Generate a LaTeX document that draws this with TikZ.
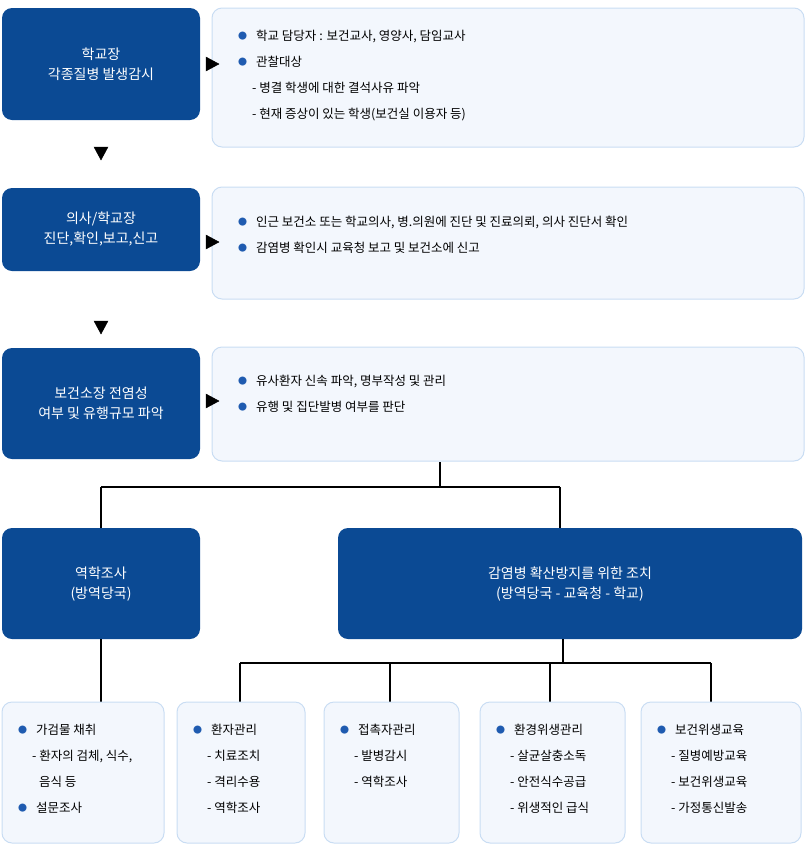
\documentclass[tikz,border=0pt]{standalone}
\usepackage{fontspec}
\setmainfont{Noto Sans CJK KR}
\begin{document}
\begin{tikzpicture}[x=1pt,y=-1pt,
 dark/.style={fill=dkb,rounded corners=10pt,draw=none},
 lite/.style={fill=ltb,draw=bdb,line width=1pt,rounded corners=10pt},
 ln/.style={line width=1.2pt,black},
 tri/.style={fill=black,inner sep=0pt},
 dtxt/.style={text=white,font=\fontsize{14}{20}\selectfont,align=center},
 btxt/.style={anchor=north west,font=\fontsize{12.5}{26}\selectfont,align=left,inner sep=0pt}]
\definecolor{dkb}{HTML}{0B4A94}
\definecolor{ltb}{HTML}{F3F7FD}
\definecolor{bdb}{HTML}{C9DDF3}
\definecolor{bul}{HTML}{1F5BB0}
\newcommand{\bl}{{\color{bul}\raisebox{1.5pt}{\fontsize{9}{9}\selectfont●}}\hspace{9pt}}
\newcommand{\ind}{\hspace{14pt}}
\useasboundingbox (0,0) rectangle (810,852);
% row 1
\draw[dark] (2,8) rectangle (200,120); \node[dtxt] (d1) at (101,64) {학교장\\각종질병 발생감시};
\draw[lite] (212,8) rectangle (804,147); \node[btxt] (t1) at (238,30) {\bl 학교 담당자 : 보건교사, 영양사, 담임교사\\\bl 관찰대상\\\ind - 병결 학생에 대한 결석사유 파악\\\ind - 현재 증상이 있는 학생(보건실 이용자 등)};
\draw[tri] (206,57) -- (219,64) -- (206,71) -- cycle;
\draw[tri] (94,147) -- (108,147) -- (101,160) -- cycle;
% row 2
\draw[dark] (2,188) rectangle (200,271); \node[dtxt] (d2) at (101,229) {의사/학교장\\진단,확인,보고,신고};
\draw[lite] (212,187) rectangle (804,299); \node[btxt] (t2) at (238,216) {\bl 인근 보건소 또는 학교의사, 병.의원에 진단 및 진료의뢰, 의사 진단서 확인\\\bl 감염병 확인시 교육청 보고 및 보건소에 신고};
\draw[tri] (206,235) -- (219,242) -- (206,249) -- cycle;
\draw[tri] (94,321) -- (108,321) -- (101,334) -- cycle;
% row 3
\draw[dark] (2,348) rectangle (200,459); \node[dtxt] (d3) at (101,403) {보건소장 전염성\\여부 및 유행규모 파악};
\draw[lite] (212,347) rectangle (804,461); \node[btxt] (t3) at (238,375) {\bl 유사환자 신속 파악, 명부작성 및 관리\\\bl 유행 및 집단발병 여부를 판단};
\draw[tri] (206,394) -- (219,401) -- (206,408) -- cycle;
% branch
\coordinate (a) at (440,462); \coordinate (b) at (440,487);
\coordinate (c) at (101,487); \coordinate (e) at (560,487);
\draw[ln] (a) -- (b) (c) -- (e) (c) -- (101,528) (e) -- (560,528);
% row 4
\draw[dark] (2,528) rectangle (200,639); \node[dtxt] (d4) at (101,584) {역학조사\\(방역당국)};
\draw[dark] (338,528) rectangle (802,639); \node[dtxt] (d5) at (570,584) {감염병 확산방지를 위한 조치\\(방역당국 - 교육청 - 학교)};
\draw[ln] (101,639) -- (101,702);
\draw[ln] (563,639) -- (563,663) (240,663) -- (711,663);
\foreach \x in {240,390,550,711} \draw[ln] (\x,663) -- (\x,702);
% bottom
\draw[lite] (2,702) rectangle (164,843); \node[btxt] (b1) at (18,724) {\bl 가검물 채취\\\ind - 환자의 검체, 식수,\\\ind\hspace{7pt}음식 등\\\bl 설문조사};
\draw[lite] (177,702) rectangle (305,843); \node[btxt] (b2) at (193,724) {\bl 환자관리\\\ind - 치료조치\\\ind - 격리수용\\\ind - 역학조사};
\draw[lite] (324,702) rectangle (459,843); \node[btxt] (b3) at (340,724) {\bl 접촉자관리\\\ind - 발병감시\\\ind - 역학조사};
\draw[lite] (480,702) rectangle (625,843); \node[btxt] (b4) at (496,724) {\bl 환경위생관리\\\ind - 살균살충소독\\\ind - 안전식수공급\\\ind - 위생적인 급식};
\draw[lite] (641,702) rectangle (801,843); \node[btxt] (b5) at (657,724) {\bl 보건위생교육\\\ind - 질병예방교육\\\ind - 보건위생교육\\\ind - 가정통신발송};
\end{tikzpicture}
\end{document}
